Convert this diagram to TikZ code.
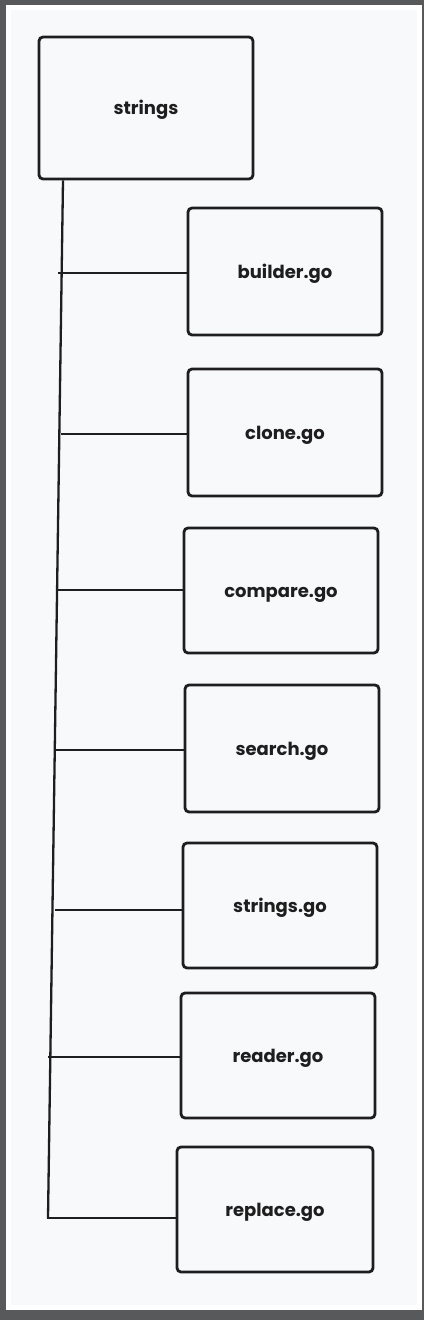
\documentclass[tikz,border=0pt]{standalone}
\usepackage{fontspec}
\setmainfont{Poppins}
\definecolor{frame}{HTML}{58595B}
\definecolor{paper}{HTML}{F8F9FB}
\definecolor{ink}{HTML}{1E1E1E}
\begin{document}
\begin{tikzpicture}[x=1pt,y=-1pt,
  filebox/.style={draw=ink,line width=2.8pt,rounded corners=4pt,fill=paper,inner sep=0pt,
    text=ink,font=\fontsize{18}{20}\selectfont\bfseries,text height=13pt,text depth=0pt},
  link/.style={draw=ink,line width=2.3pt}]
\fill[frame] (0,0) rectangle (424,1320);
\fill[white] (6,5) rectangle (422,1310);
\fill[paper] (11,10) rectangle (417,1305);
\useasboundingbox (0,0) rectangle (424,1320);
\node[filebox,minimum width=214pt,minimum height=142pt] (root) at (146,108) {strings};
\node[filebox,minimum width=194pt,minimum height=127pt] (b1) at (285,271.5) {builder.go};
\node[filebox,minimum width=194pt,minimum height=127pt] (b2) at (285,432.5) {clone.go};
\node[filebox,minimum width=194pt,minimum height=125pt] (b3) at (281,590.5) {compare.go};
\node[filebox,minimum width=194pt,minimum height=127pt] (b4) at (282,748.5) {search.go};
\node[filebox,minimum width=194pt,minimum height=125pt] (b5) at (280,905.5) {strings.go};
\node[filebox,minimum width=194pt,minimum height=125pt] (b6) at (278,1055.5) {reader.go};
\node[filebox,minimum width=196pt,minimum height=125pt] (b7) at (275,1209.5) {replace.go};
% trunk
\coordinate (top) at (63,179);
\coordinate (bot) at (48,1218);
\coordinate (j1) at (58,273);
\coordinate (j2) at (61,434);
\coordinate (j3) at (56,590);
\coordinate (j4) at (54,750);
\coordinate (j5) at (55,910);
\coordinate (j6) at (48,1057);
\coordinate (j7) at (47,1218);
\draw[link] (root.south -| top) -- (bot);
\draw[link] (j1) -- (j1 -| b1.west);
\draw[link] (j2) -- (j2 -| b2.west);
\draw[link] (j3) -- (j3 -| b3.west);
\draw[link] (j4) -- (j4 -| b4.west);
\draw[link] (j5) -- (j5 -| b5.west);
\draw[link] (j6) -- (j6 -| b6.west);
\draw[link] (j7) -- (j7 -| b7.west);
\end{tikzpicture}
\end{document}
